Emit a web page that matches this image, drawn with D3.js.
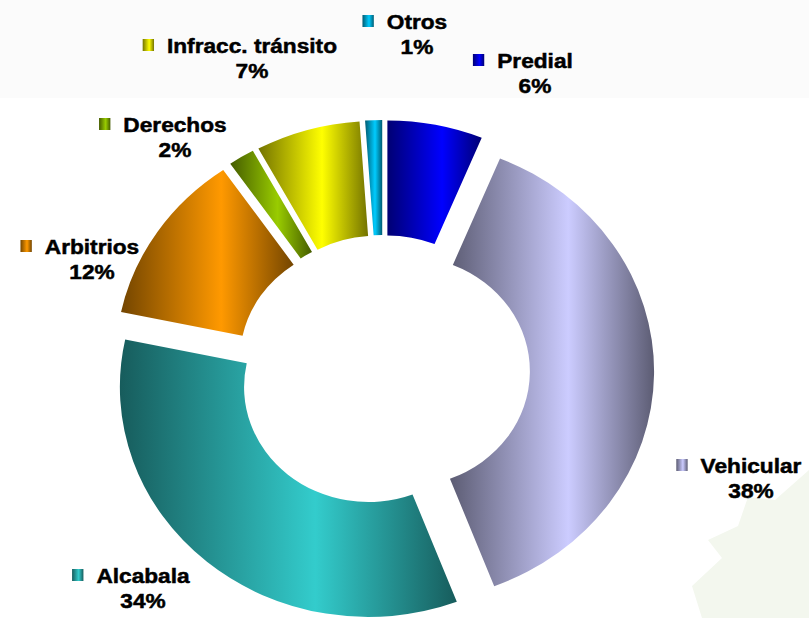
<!DOCTYPE html>
<html>
<head>
<meta charset="utf-8">
<script src="https://cdn.jsdelivr.net/npm/d3@7"></script>
<style>
  body { margin: 0; background: #fff; }
  text { font-family: "Liberation Sans", Arial, sans-serif; font-weight: bold; }
</style>
</head>
<body>
<script>
const categories = ['Predial', 'Vehicular', 'Alcabala', 'Arbitrios', 'Derechos', 'Infracc. tránsito', 'Otros'];
const values = [6.2, 38.0, 34.1, 12.1, 1.7, 6.8, 1.1];
const colors = ['#0000ff', '#ccccff', '#33cccc', '#ff9900', '#99cc00', '#ffff00', '#00ccff'];

// label spots (name centre x, baseline y) in page pixels
const labelX = [535, 751, 143, 92, 175, 252, 417];
const labelY = [68, 473, 583, 254, 132, 53, 29];

const W = 809, H = 618;
const sx = 1.08; // the picture is a little wider than tall

const svg = d3.select('body').append('svg')
    .attr('width', W)
    .attr('height', H);

svg.append('rect')
    .attr('width', W)
    .attr('height', H)
    .attr('fill', '#ffffff');

svg.append('rect')
    .attr('width', W)
    .attr('height', 98)
    .attr('fill', '#fbfbfb');

// faint leaf in the corner
svg.append('path')
    .attr('d', 'M809,470 L775,500 L748,497 L738,526 L708,540 L722,558 L692,586 L702,618 L809,618 Z')
    .attr('fill', '#f3f7ee');

const defs = svg.append('defs');
const total = d3.sum(values);

const data = categories.map((c, i) => ({ name: c, value: values[i], color: colors[i] }));

data.forEach((d, i) => {
    const base = d3.rgb(d.color);
    const dark = d3.rgb(base.r * 0.45, base.g * 0.45, base.b * 0.45);
    const grad = defs.append('linearGradient')
        .attr('id', 'grad' + i)
        .attr('x1', 0).attr('y1', 0)
        .attr('x2', 1).attr('y2', 0);
    grad.append('stop').attr('offset', 0).attr('stop-color', dark);
    grad.append('stop').attr('offset', 0.58).attr('stop-color', base);
    grad.append('stop').attr('offset', 1).attr('stop-color', dark);
});

const g = svg.append('g')
    .attr('transform', `scale(${sx},1)`);

const cx = 383 / sx, cy = 371;
const outerR = 230, innerR = 115, explode = 21;

const pie = d3.pie()
    .sort(null)
    .value(d => d.value);

const arc = d3.arc()
    .innerRadius(innerR)
    .outerRadius(outerR);

const donut = g.append('g')
    .attr('transform', `translate(${cx},${cy})`);

donut.selectAll('path')
    .data(pie(data))
    .join('path')
    .attr('transform', d => {
        const m = (d.startAngle + d.endAngle) / 2;
        return `translate(${explode * Math.sin(m)},${-explode * Math.cos(m)})`;
    })
    .attr('d', arc)
    .attr('fill', (d, i) => `url(#grad${i})`);

const labels = g.selectAll('g.label')
    .data(data)
    .join('g')
    .attr('class', 'label');

labels.append('text')
    .attr('class', 'name')
    .attr('x', (d, i) => labelX[i] / sx)
    .attr('y', (d, i) => labelY[i])
    .attr('text-anchor', 'middle')
    .attr('font-size', 21)
    .attr('fill', '#000')
    .attr('stroke', '#000')
    .attr('stroke-width', 0.5)
    .text(d => d.name);

labels.append('text')
    .attr('x', (d, i) => labelX[i] / sx)
    .attr('y', (d, i) => labelY[i] + 25)
    .attr('text-anchor', 'middle')
    .attr('font-size', 21)
    .attr('fill', '#000')
    .attr('stroke', '#000')
    .attr('stroke-width', 0.5)
    .text(d => Math.round(d.value / total * 100) + '%');

labels.each(function (d, i) {
    const sel = d3.select(this);
    const w = sel.select('text.name').node().getComputedTextLength();
    sel.append('rect')
        .attr('x', labelX[i] / sx - w / 2 - 12 - 10.5)
        .attr('y', labelY[i] - 14)
        .attr('width', 10.5)
        .attr('height', 12)
        .attr('fill', `url(#grad${i})`);
});
</script>
</body>
</html>
